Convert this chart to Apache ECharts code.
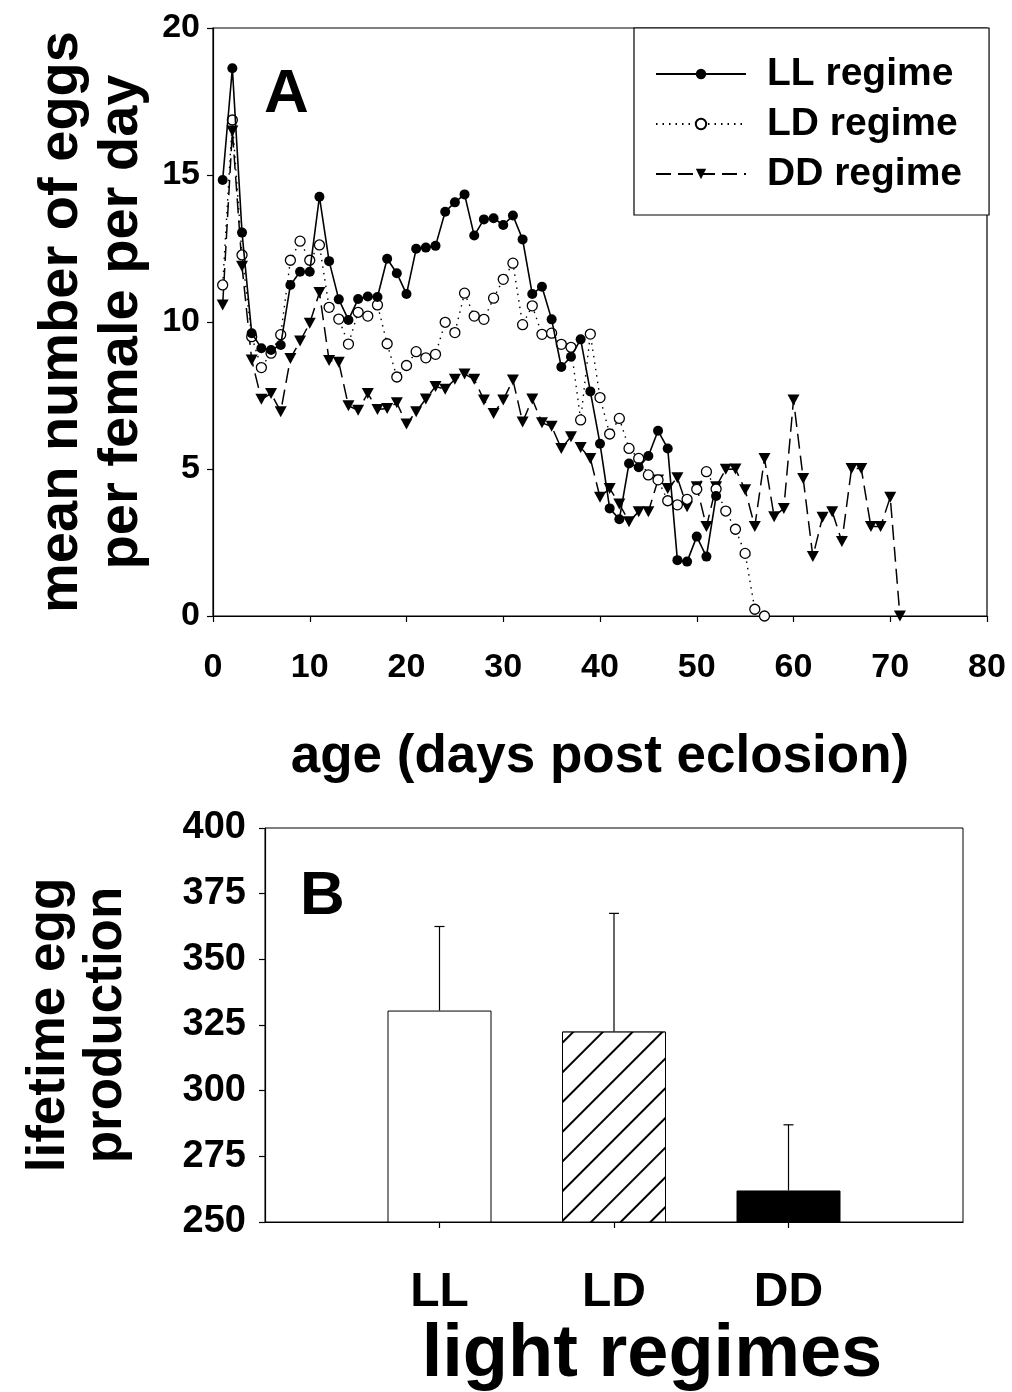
<!DOCTYPE html>
<html>
<head>
<meta charset="utf-8">
<script src="https://cdn.jsdelivr.net/npm/echarts@6/dist/echarts.min.js"></script>
<style>
  html, body { margin: 0; padding: 0; background: #fff; }
  #chart { width: 1012px; height: 1392px; }
</style>
</head>
<body>
<div id="chart"></div>
<script>
// Panel A: mean daily egg output per female, one value per day from day 1
const llEggs = [14.83, 18.63, 13.04, 9.62, 9.11, 9.05, 9.22, 11.26, 11.71, 11.71,
  14.26, 12.07, 10.77, 10.07, 10.78, 10.87, 10.85, 12.15, 11.66, 10.95,
  12.49, 12.53, 12.59, 13.75, 14.07, 14.34, 12.94, 13.49, 13.53, 13.30,
  13.62, 12.81, 10.95, 11.20, 10.09, 8.47, 8.82, 9.41, 7.64, 5.86,
  3.66, 3.29, 5.19, 5.06, 5.44, 6.30, 5.70, 1.90, 1.85, 2.70,
  2.02, 4.08];
const ldEggs = [11.26, 16.87, 12.28, 9.50, 8.45, 8.94, 9.57, 12.10, 12.75, 12.10,
  12.62, 10.50, 10.10, 9.25, 10.33, 10.20, 10.58, 9.26, 8.13, 8.52,
  8.99, 8.78, 8.90, 9.99, 9.64, 10.98, 10.20, 10.09, 10.81, 11.45,
  12.00, 9.91, 10.55, 9.58, 9.62, 9.24, 9.14, 6.67, 9.59, 7.43,
  6.19, 6.72, 5.70, 5.36, 4.80, 4.63, 3.92, 3.78, 3.97, 4.31,
  4.91, 4.32, 3.57, 2.95, 2.13, 0.23, 0];
const ddEggs = [10.58, 16.50, 11.90, 8.71, 7.37, 7.57, 6.95, 8.76, 9.35, 9.96,
  11.00, 8.69, 8.63, 7.15, 7.00, 7.57, 7.02, 7.06, 7.25, 6.53,
  6.95, 7.38, 7.81, 7.71, 8.05, 8.23, 8.05, 7.35, 6.89, 7.35,
  8.03, 6.60, 7.38, 6.57, 6.45, 5.70, 6.10, 5.73, 5.36, 4.04,
  4.34, 3.81, 3.21, 3.55, 3.55, 4.63, 4.34, 4.70, 3.72, 4.40,
  3.04, 4.40, 4.99, 5.00, 4.29, 3.04, 5.36, 3.38, 3.66, 7.35,
  4.68, 2.02, 3.36, 3.55, 2.53, 5.02, 5.02, 3.04, 3.04, 4.04,
  0];
const seriesNames = ['LL regime', 'LD regime', 'DD regime'];

// Panel B: lifetime egg production per light regime (mean and upper error)
const regimes = ['LL', 'LD', 'DD'];
const lifetimeMean = [330.5, 322.5, 262];
const lifetimeErr = [32, 45, 25];

const FONT = '"Liberation Sans", Arial, sans-serif';
const INK = '#000';

// daily series become [day, value] pairs
const byDay = arr => arr.map((v, i) => [i + 1, v]);

const boldText = (size, extra) => Object.assign({
  color: INK, fontFamily: FONT, fontWeight: 'bold', fontSize: size
}, extra || {});

const axisLine = { show: true, lineStyle: { color: INK, width: 1.2 } };
const axisTick = { show: true, inside: false, length: 6, lineStyle: { color: INK, width: 1.2 } };

// axis slots: blank margin slot on each side of the three regimes
const barSlots = [''].concat(regimes, ['']);
const barValues = [null].concat(lifetimeMean, [null]);
const errItems = regimes.map((r, i) => [i + 1, lifetimeMean[i], lifetimeErr[i]]);

const chart = echarts.init(document.getElementById('chart'), null, { renderer: 'canvas' });

chart.setOption({
  backgroundColor: '#fff',
  animation: false,
  textStyle: { fontFamily: FONT },
  grid: [
    { left: 213, top: 28, width: 774, height: 588, show: true, borderColor: INK, borderWidth: 1.2,
      backgroundColor: 'transparent', containLabel: false, outerBoundsMode: 'none' },
    { left: 265, top: 828, width: 698, height: 394, show: true, borderColor: INK, borderWidth: 1,
      backgroundColor: 'transparent', containLabel: false, outerBoundsMode: 'none' }
  ],
  legend: {
    data: seriesNames,
    orient: 'vertical',
    left: 634,
    top: 28,
    padding: [25, 27, 20, 21],
    itemGap: 8,
    itemWidth: 90,
    itemHeight: 13,
    borderColor: INK,
    borderWidth: 1.2,
    backgroundColor: '#fff',
    selectedMode: false,
    textStyle: boldText(39, { lineHeight: 42, padding: [0, 0, 0, 16] })
  },
  xAxis: [
    {
      gridIndex: 0, type: 'value', min: 0, max: 80, interval: 10,
      axisLine, axisTick,
      splitLine: { show: false },
      axisLabel: boldText(34, { margin: 35, lineHeight: 34 }),
      name: 'age (days post eclosion)',
      nameLocation: 'middle', nameGap: 111,
      nameTextStyle: boldText(53, { lineHeight: 60 })
    },
    {
      gridIndex: 1, type: 'category', data: barSlots, boundaryGap: false,
      axisLine,
      axisTick: Object.assign({}, axisTick, { interval: (idx) => idx > 0 && idx < barSlots.length - 1 }),
      axisLabel: boldText(48, { margin: 47, lineHeight: 48, interval: 0 }),
      name: 'light regimes',
      nameLocation: 'middle', nameGap: 88,
      nameTextStyle: boldText(74, { lineHeight: 76, padding: [0, 0, 0, 76] })
    }
  ],
  yAxis: [
    {
      gridIndex: 0, type: 'value', min: 0, max: 20, interval: 5,
      axisLine, axisTick,
      splitLine: { show: false },
      axisLabel: boldText(34, { margin: 13 }),
      name: 'mean number of eggs\nper female per day',
      nameLocation: 'middle', nameRotate: 90, nameGap: 58,
      nameTextStyle: boldText(56, { lineHeight: 60 })
    },
    {
      gridIndex: 1, type: 'value', min: 250, max: 400, interval: 25,
      axisLine, axisTick,
      splitLine: { show: false },
      axisLabel: boldText(38, { margin: 19 }),
      name: 'lifetime egg\nproduction',
      nameLocation: 'middle', nameRotate: 90, nameGap: 130,
      nameTextStyle: boldText(53, { lineHeight: 57 })
    }
  ],
  series: [
    {
      name: seriesNames[0], type: 'line', xAxisIndex: 0, yAxisIndex: 0,
      data: byDay(llEggs),
      symbol: 'circle', symbolSize: 10,
      itemStyle: { color: INK, borderColor: INK, borderWidth: 0 },
      lineStyle: { color: INK, width: 1.6, type: 'solid' },
      z: 4
    },
    {
      name: seriesNames[1], type: 'line', xAxisIndex: 0, yAxisIndex: 0,
      data: byDay(ldEggs),
      symbol: 'circle', symbolSize: 10,
      itemStyle: { color: '#fff', borderColor: INK, borderWidth: 1.3 },
      lineStyle: { color: INK, width: 1.4, type: [1.5, 5] },
      z: 3
    },
    {
      name: seriesNames[2], type: 'line', xAxisIndex: 0, yAxisIndex: 0,
      data: byDay(ddEggs),
      symbol: 'triangle', symbolRotate: 180, symbolSize: [12, 11],
      itemStyle: { color: INK, borderWidth: 0 },
      lineStyle: { color: INK, width: 1.5, type: [15, 7] },
      z: 2
    },
    {
      type: 'bar', xAxisIndex: 1, yAxisIndex: 1,
      data: barValues.map((v, i) => {
        if (v === null) return null;
        const k = i - 1;
        if (k === 0) return { value: v, itemStyle: { color: '#fff' } };
        if (k === 1) return {
          value: v,
          itemStyle: {
            color: '#fff',
            decal: {
              symbol: 'rect', symbolSize: 1,
              dashArrayX: [1, 0], dashArrayY: [1.3, 19],
              rotation: -Math.PI / 4, color: INK, backgroundColor: '#fff'
            }
          }
        };
        return { value: v, itemStyle: { color: INK } };
      }),
      barWidth: 104,
      itemStyle: { borderColor: INK, borderWidth: 1 },
      clip: true,
      z: 2
    },
    {
      type: 'custom', xAxisIndex: 1, yAxisIndex: 1,
      data: errItems,
      renderItem: function (params, api) {
        const x = api.value(0);
        const base = api.coord([x, api.value(1)]);
        const top = api.coord([x, api.value(1) + api.value(2)]);
        const cap = 5;
        const st = { stroke: INK, lineWidth: 1.2 };
        return {
          type: 'group',
          children: [
            { type: 'line', shape: { x1: base[0], y1: base[1], x2: top[0], y2: top[1] }, style: st },
            { type: 'line', shape: { x1: top[0] - cap, y1: top[1], x2: top[0] + cap, y2: top[1] }, style: st }
          ]
        };
      },
      z: 3
    }
  ],
  graphic: [
    { type: 'text', left: 264, top: 64, style: { text: 'A', fill: INK, font: 'bold 62px ' + FONT } },
    { type: 'text', left: 300, top: 866, style: { text: 'B', fill: INK, font: 'bold 62px ' + FONT } }
  ]
});
</script>
</body>
</html>
